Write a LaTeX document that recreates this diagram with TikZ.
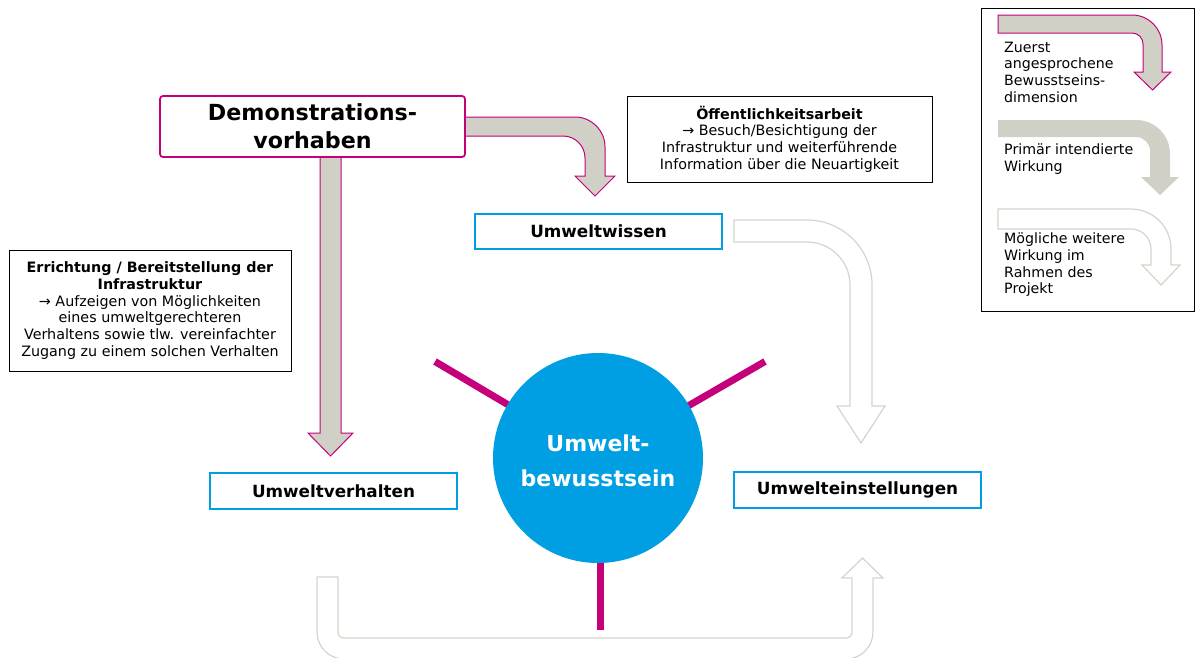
\documentclass[tikz,border=0pt]{standalone}
\usepackage{fontspec}
\setmainfont{DejaVu Sans}
\definecolor{mag}{HTML}{C4007A}
\definecolor{bluec}{HTML}{009FE3}
\definecolor{grayfill}{HTML}{D0D0C6}
\definecolor{lightline}{HTML}{D6D4CA}
\begin{document}
\begin{tikzpicture}[x=1pt,y=-1pt,
  magbox/.style={draw=mag,line width=1.8pt,rounded corners=3pt,fill=white,inner sep=0pt},
  bluebox/.style={draw=bluec,line width=2pt,fill=white,inner sep=0pt,font=\fontsize{16.8}{19}\selectfont\bfseries},
  txtbox/.style={draw=black,line width=0.9pt,fill=white,inner sep=0pt,align=center,font=\fontsize{14.3}{16.7}\selectfont},
  grayarrow/.style={fill=grayfill,draw=mag,line width=1pt,line join=miter},
  lightarrow/.style={fill=white,draw=lightline,line width=1.2pt},
  spoke/.style={draw=mag,line width=7pt},
  legtext/.style={anchor=north west,inner sep=0pt,align=left,font=\fontsize{14.2}{16.8}\selectfont}]
\useasboundingbox (0,0) rectangle (1198,657);
\clip (0,0) rectangle (1198,657);

% fat arrows
\draw[grayarrow] (460,117) -- (575,117) .. controls (591.6,117) and (605,130.4) .. (605,147) -- (605,176) -- (615,176) -- (595,196) -- (575,176) -- (585,176) -- (585,158) .. controls (585,145.8) and (575.2,136) .. (563,136) -- (460,136) -- cycle;
\draw[grayarrow] (320,150) -- (341,150) -- (341,433) -- (353,433) -- (330.5,456) -- (308,433) -- (320,433) -- cycle;
\draw[lightarrow] (734,220) -- (807,220) .. controls (842.9,220) and (872,249.1) .. (872,285) -- (872,406) -- (885,406) -- (861,443) -- (837,406) -- (850,406) -- (850,285) .. controls (850,261.3) and (830.7,242) .. (807,242) -- (734,242) -- cycle;
\draw[lightarrow] (317,577) -- (338,577) -- (338,632) .. controls (338,635.3) and (340.7,638) .. (344,638) -- (846,638) .. controls (849.3,638) and (852,635.3) .. (852,632) -- (852,578) -- (842,578) -- (862.5,558) -- (883,578) -- (873,578) -- (873,632) .. controls (873,646.9) and (860.9,659) .. (846,659) -- (344,659) .. controls (329.1,659) and (317,646.9) .. (317,632) -- cycle;

% spokes and circle
\coordinate (cc) at (598,458);
\coordinate (sl) at (435,361.5);
\coordinate (sr) at (765,361.5);
\coordinate (sb) at (600,630);
\draw[spoke] (sl) -- (cc);
\draw[spoke] (sr) -- (cc);
\draw[spoke] (sb) -- (600,458);
\node[circle,fill=bluec,minimum size=210pt,inner sep=0pt] (ub) at (cc) {};
\node[text=white,align=center,inner sep=0pt,
  font=\fontsize{22}{35}\selectfont\bfseries] (ubtext) at (598,461) {Umwelt-\\bewusstsein};

% boxes
\node[magbox,minimum width=305pt,minimum height=61pt,align=center,
  font=\fontsize{22.2}{28}\selectfont\bfseries] (demo) at (312.5,126.5) {Demonstrations-\\vorhaben};
\node[txtbox,minimum width=305pt,minimum height=86pt] (oeff) at (779.5,139)
  {\textbf{Öffentlichkeitsarbeit}\\→ Besuch/Besichtigung der\\Infrastruktur und weiterführende\\Information über die Neuartigkeit};
\node[txtbox,minimum width=282pt,minimum height=121pt] (err) at (150,310.5)
  {\textbf{Errichtung / Bereitstellung der}\\\textbf{Infrastruktur}\\→ Aufzeigen von Möglichkeiten\\eines umweltgerechteren\\Verhaltens sowie tlw. vereinfachter\\Zugang zu einem solchen Verhalten};
\node[bluebox,minimum width=247pt,minimum height=35pt] (wissen) at (598.5,231.5) {Umweltwissen};
\node[bluebox,minimum width=247pt,minimum height=36pt] (verh) at (333.5,491) {Umweltverhalten};
\node[bluebox,minimum width=247pt,minimum height=36pt] (einst) at (857.5,490) {Umwelteinstellungen};

% legend
\node[draw=black,line width=0.9pt,fill=white,minimum width=213pt,minimum height=303pt,inner sep=0pt] (leg) at (1087.5,159.5) {};
\draw[grayarrow] (998,15) -- (1132,15) .. controls (1148.6,15) and (1162,28.4) .. (1162,45) -- (1162,72) -- (1171,72) -- (1152.5,90) -- (1134,72) -- (1143,72) -- (1143,44) .. controls (1143,37.9) and (1138.1,33) .. (1132,33) -- (998,33) -- cycle;
\fill[grayfill] (998,120) -- (1136,120) .. controls (1154.8,120) and (1170,135.2) .. (1170,154) -- (1170,177) -- (1179,177) -- (1160,195) -- (1141,177) -- (1150,177) -- (1150,151) .. controls (1150,143.3) and (1143.7,137) .. (1136,137) -- (998,137) -- cycle;
\draw[lightarrow] (998,209) -- (1131,209) .. controls (1153.1,209) and (1171,226.9) .. (1171,249) -- (1171,265) -- (1180,265) -- (1161,285) -- (1142,265) -- (1151,265) -- (1151,249) .. controls (1151,238) and (1142,229) .. (1131,229) -- (998,229) -- cycle;
\node[legtext] (l1) at (1004,41.5) {Zuerst\\angesprochene\\Bewusstseins-\\dimension};
\node[legtext] (l2) at (1004,143.5) {Primär intendierte\\Wirkung};
\node[legtext] (l3) at (1004,232.5) {Mögliche weitere\\Wirkung im\\Rahmen des\\Projekt};
\end{tikzpicture}
\end{document}
